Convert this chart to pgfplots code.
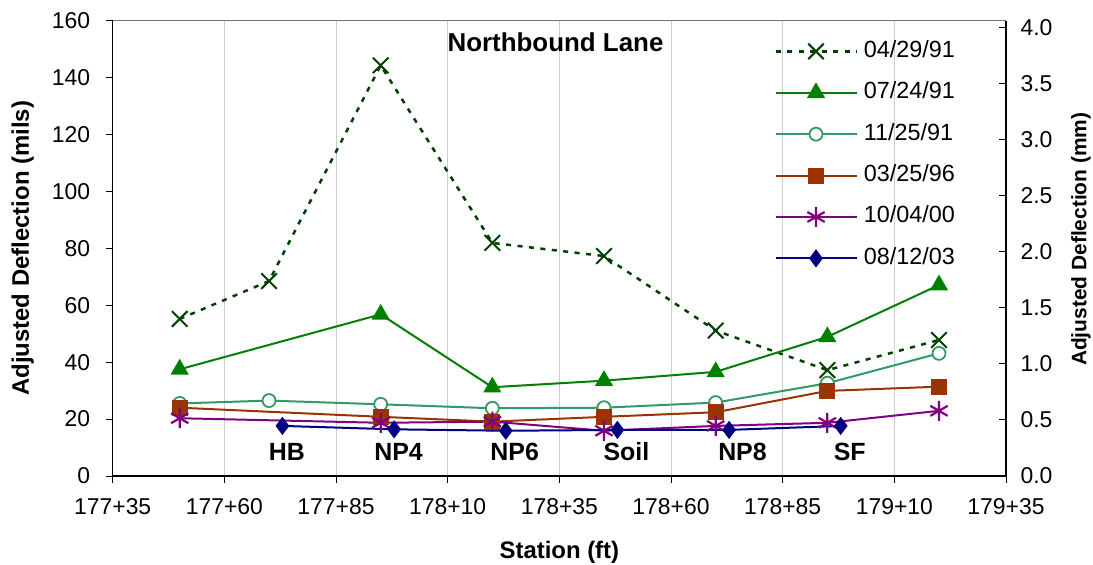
\documentclass[border=0pt]{standalone}
\usepackage{pgfplots}
\pgfplotsset{compat=1.18}
\usepackage{pgfplotstable}
\usepackage{fontspec}
\setmainfont{Liberation Sans}

\definecolor{cA}{RGB}{0,64,0}
\definecolor{cB}{RGB}{0,128,0}
\definecolor{cC}{RGB}{51,153,102}
\definecolor{cD}{RGB}{153,51,0}
\definecolor{cE}{RGB}{128,0,128}
\definecolor{cF}{RGB}{0,0,128}

% station (ft), adjusted deflection (mils)
\pgfplotstableread{
x y
17750 55.2
17770 68.5
17795 144.3
17820 81.9
17845 77.3
17870 51.1
17895 37.2
17920 47.8
}\tA
\pgfplotstableread{
x y
17750 37.5
17795 56.8
17820 31.2
17845 33.5
17870 36.6
17895 48.9
17920 67.1
}\tB
\pgfplotstableread{
x y
17750 25.5
17770 26.5
17795 25.2
17820 23.8
17845 24.0
17870 25.8
17895 32.6
17920 43.1
}\tC
\pgfplotstableread{
x y
17750 24.0
17795 20.8
17820 19.1
17845 20.8
17870 22.4
17895 29.9
17920 31.4
}\tD
\pgfplotstableread{
x y
17750 20.3
17795 18.7
17820 19.1
17845 15.9
17870 17.6
17895 18.7
17920 22.9
}\tE
\pgfplotstableread{
x y
17773 17.6
17798 16.4
17823 15.9
17848 16.2
17873 16.2
17898 17.6
}\tF

\pgfplotsset{
  every axis/.append style={
    scale only axis, width=893.3bp, height=455.3bp,
    xmin=17735, xmax=17935,
    tick label style={font=\fontsize{23}{27}\selectfont},
    /pgf/number format/assume math mode=true,
    major tick length=7bp,
    tick style={black, line width=1bp},
  },
}

\begin{document}
\begin{tikzpicture}
\path[use as bounding box] (-112.7bp,-89bp) rectangle (980.3bp,476bp);

\begin{axis}[
  ymin=0, ymax=160,
  xtick={17735,17760,17785,17810,17835,17860,17885,17910,17935},
  xticklabels={177+35,177+60,177+85,178+10,178+35,178+60,178+85,179+10,179+35},
  scaled x ticks=false,
  ytick={0,20,40,60,80,100,120,140,160},
  axis x line*=bottom, axis y line*=left,
  x axis line style={-, line width=2bp},
  y axis line style={-, line width=1.5bp},
  tick align=outside,
  xmajorgrids, grid style={color=black!20, line width=1bp},
  xticklabel style={yshift=-12bp},
  yticklabel style={xshift=-12bp},
  xlabel={Station (ft)},
  ylabel={Adjusted Deflection (mils)},
  xlabel style={font=\bfseries\fontsize{24}{28}\selectfont, at={(axis description cs:0.5,-0.167)}, anchor=center},
  ylabel style={font=\bfseries\fontsize{24}{28}\selectfont, at={(axis description cs:-0.1008,0.5)}, anchor=center},
  legend style={draw=none, fill=none, at={(axis description cs:0.737,0.966)}, anchor=north west,
    font=\fontsize{23.5}{28}\selectfont, row sep=15.4bp, column sep=4bp,
    nodes={inner sep=2bp, text height=17bp, text depth=5bp}},
  legend cell align=left,
  legend image code/.code={\draw[mark repeat=2,mark phase=2] plot coordinates {(0bp,0bp) (40.5bp,0bp) (81bp,0bp)};},
]
\addplot[color=cA, line width=2.5bp, dash pattern=on 5bp off 6.5bp, mark=x, mark size=11bp, mark options={solid, line width=2bp}] table {\tA};
\addlegendentry{04/29/91}
\addplot[color=cB, line width=2bp, mark=triangle*, mark size=8.5bp, mark options={solid}] table {\tB};
\addlegendentry{07/24/91}
\addplot[color=cC, line width=2bp, mark=*, mark size=6.5bp, mark options={solid, fill=white, line width=1.8bp}] table {\tC};
\addlegendentry{11/25/91}
\addplot[color=cD, line width=2bp, mark=square*, mark size=7bp, mark options={solid}] table {\tD};
\addlegendentry{03/25/96}
\addplot[color=cE, line width=2bp, mark=asterisk, mark size=10bp, mark options={solid, line width=2.2bp}] table {\tE};
\addlegendentry{10/04/00}
\addplot[color=cF, line width=2bp, mark=diamond*, mark size=7.5bp, mark options={solid}] table {\tF};
\addlegendentry{08/12/03}

\draw[black!55, line width=1.5bp] (rel axis cs:0,1) -- (rel axis cs:1,1);

\node[font=\bfseries\fontsize{26}{30}\selectfont] at (rel axis cs:0.4957,0.953) {Northbound Lane};
\node[font=\bfseries\fontsize{25}{30}\selectfont] at (axis cs:17774,8.5) {HB};
\node[font=\bfseries\fontsize{25}{30}\selectfont] at (axis cs:17799,8.5) {NP4};
\node[font=\bfseries\fontsize{25}{30}\selectfont] at (axis cs:17825,8.5) {NP6};
\node[font=\bfseries\fontsize{25}{30}\selectfont] at (axis cs:17850,8.5) {Soil};
\node[font=\bfseries\fontsize{25}{30}\selectfont] at (axis cs:17876,8.5) {NP8};
\node[font=\bfseries\fontsize{25}{30}\selectfont] at (axis cs:17900,8.5) {SF};
\end{axis}

\begin{axis}[
  ymin=0, ymax=4.064,
  axis x line=none, axis y line*=right,
  y axis line style={-, line width=1.5bp},
  tick align=inside,
  ytick={0,0.5,1,1.5,2,2.5,3,3.5,4},
  yticklabel style={xshift=11bp, /pgf/number format/.cd, fixed, fixed zerofill, precision=1},
  ylabel={Adjusted Deflection (mm)},
  every axis y label/.style={at={(axis description cs:1.084,0.52)}, rotate=90, anchor=center,
    font=\bfseries\fontsize{21}{25}\selectfont},
]
\addplot[draw=none] coordinates {(17735,0)};
\end{axis}
\end{tikzpicture}
\end{document}
